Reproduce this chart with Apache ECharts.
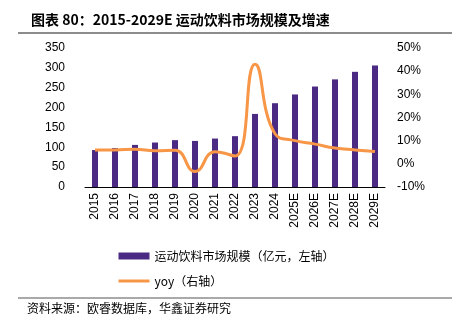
<!DOCTYPE html>
<html><head><meta charset="utf-8">
<script src="https://cdn.jsdelivr.net/npm/echarts@6/dist/echarts.min.js"></script>
<style>html,body{margin:0;padding:0;background:#fff}#c{width:455px;height:331px}</style>
</head><body><div id="c"></div>
<script>
const categories = ['2015','2016','2017','2018','2019','2020','2021','2022','2023','2024','2025E','2026E','2027E','2028E','2029E'];
const marketSize = [93,98,106,112,118,116,122,128,184,211,233,253,271,290,306];
const yoy = [6.0,6.0,6.3,5.6,5.9,-3.3,5.2,3.4,43,13.0,10.0,8.5,6.8,6.0,5.3];
const leftTicks = [0,50,100,150,200,250,300,350];
const rightTicks = [-10,0,10,20,30,40,50];

const chart = echarts.init(document.getElementById('c'));
const cjk = '"Noto Sans CJK SC", sans-serif';
const lat = '"Liberation Sans", Arial, sans-serif';
chart.setOption({
  animation:false,
  title:{text:'图表 80：2015-2029E 运动饮料市场规模及增速', left:26, top:8,
    textStyle:{fontFamily:cjk, fontSize:14, fontWeight:'bold', color:'#000'}},
  graphic:[
    {type:'line', shape:{x1:18,y1:33,x2:452,y2:33}, style:{stroke:'#8c8c8c', lineWidth:2}},
    {type:'line', shape:{x1:18,y1:298,x2:452,y2:298}, style:{stroke:'#8c8c8c', lineWidth:1.5}},
    {type:'text', left:27, top:302, style:{text:'资料来源：欧睿数据库，华鑫证券研究', font:'12px '+cjk, fill:'#000'}}
  ],
  legend:{orient:'vertical', left:112, top:245, itemWidth:31, itemHeight:7, itemGap:13,
    textStyle:{fontFamily:cjk, fontSize:12, color:'#000'},
    data:[{name:'运动饮料市场规模（亿元，左轴）', icon:'rect'},
          {name:'yoy（右轴）', itemStyle:{opacity:0}, lineStyle:{width:3, color:'#F79646'}}]},
  grid:{left:85, right:70, top:48, bottom:144},
  xAxis:{type:'category', data:categories, boundaryGap:true,
    axisLine:{lineStyle:{color:'#000', width:1}},
    axisTick:{inside:true, length:3, lineStyle:{color:'#000'}},
    axisLabel:{rotate:90, fontFamily:lat, fontSize:12, color:'#000', margin:6}},
  yAxis:[
    {type:'value', min:0, max:350, interval:50, splitLine:{show:false},
     axisLine:{show:false}, axisTick:{show:false},
     axisLabel:{fontFamily:lat, fontSize:12, color:'#000', margin:20}},
    {type:'value', min:-10, max:50, interval:10, splitLine:{show:false},
     axisLine:{show:false}, axisTick:{show:false},
     axisLabel:{fontFamily:lat, fontSize:12, color:'#000', margin:12, formatter:'{value}%'}}
  ],
  series:[
    {name:'运动饮料市场规模（亿元，左轴）', type:'bar', data:marketSize, barWidth:6,
     itemStyle:{color:'#4B2A83'}},
    {name:'yoy（右轴）', type:'line', yAxisIndex:1, data:yoy, smooth:true, symbol:'none',
     lineStyle:{color:'#F79646', width:3}, itemStyle:{color:'#F79646'}}
  ]
});
</script></body></html>
